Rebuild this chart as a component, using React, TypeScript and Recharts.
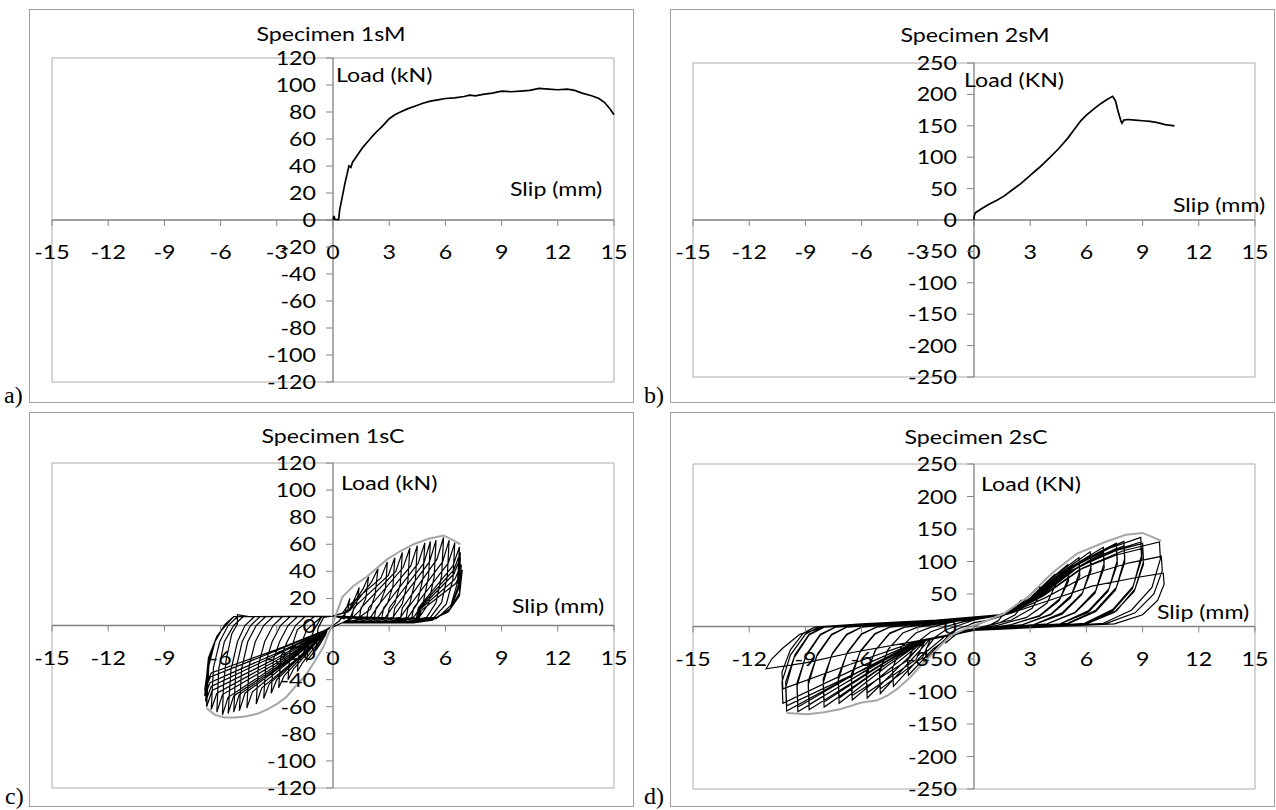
import React from 'react';
import { ComposedChart, Line, Scatter, XAxis, YAxis, CartesianGrid, ReferenceLine } from 'recharts';

// Calibri-like text: Lato stretched horizontally (the source figure is stretched)
const FONT = 'Lato, "Noto Sans", sans-serif';
const STRETCH = 1.22;
const TEXT_SIZE = 19;

const slipTicks = [-15, -12, -9, -6, -3, 0, 3, 6, 9, 12, 15];
const load120Ticks = [-120, -100, -80, -60, -40, -20, 0, 20, 40, 60, 80, 100, 120];
const load250Ticks = [-250, -200, -150, -100, -50, 0, 50, 100, 150, 200, 250];

type Pt = [number, number];

// a) monotonic test 1sM  [slip mm, load kN]
const curve1sM: Pt[] = [
  [0, 0], [0.05, 3], [0.1, 0.5], [0.3, 0.3], [0.35, 7], [0.45, 14], [0.55, 21], [0.65, 28], [0.75, 34],
  [0.85, 40], [0.95, 39], [1.05, 43], [1.2, 46], [1.4, 50], [1.6, 54], [1.85, 58], [2.1, 62], [2.3, 65],
  [2.6, 69], [2.8, 72], [3.0, 75], [3.3, 78], [3.6, 80], [4.0, 82.5], [4.4, 84.5], [4.8, 86.5], [5.2, 88],
  [5.6, 89], [6.0, 90], [6.5, 90.5], [7.0, 91.5], [7.3, 92.5], [7.6, 92], [8.0, 93], [8.5, 94], [9.0, 95.5],
  [9.5, 95], [10.0, 95.5], [10.5, 96], [11.0, 97.5], [11.5, 97], [12.0, 96.5], [12.5, 97], [12.9, 96],
  [13.3, 94], [13.8, 92], [14.2, 90], [14.5, 87], [14.8, 82], [15.0, 78],
];

// b) monotonic test 2sM
const curve2sM: Pt[] = [
  [0, 0], [0, 5], [0.05, 10], [0.1, 12], [0.4, 18], [0.8, 25], [1.2, 31], [1.6, 38], [2.0, 47], [2.5, 58],
  [3.0, 71], [3.5, 84], [4.0, 98], [4.5, 113], [5.0, 130], [5.4, 146], [5.7, 158], [6.0, 167], [6.4, 177],
  [6.8, 186], [7.1, 192], [7.4, 197], [7.55, 190], [7.7, 172], [7.85, 157], [7.9, 154], [8.0, 159],
  [8.2, 160], [8.6, 159], [9.0, 158], [9.4, 157], [9.8, 155], [10.2, 152], [10.7, 150],
];

// c) cyclic test 1sC, hysteresis loops (one row per cycle)
const loops1sC: Pt[] = [
  [0, 0], [0.3, 3], [0.6, 8], [0.8, 12], [0.9, 20], [0.75, 14], [0.5, 9], [0, 7], [-0.5, 6], [-0.8, -2], [-0.85, -9], [-0.9, -18], [-0.7, -14], [-0.4, -7], [-0.3, -3],
  [0.5, 2], [0.9, 5], [1.1, 12], [1.25, 15], [1.4, 28], [1.2, 21], [0.8, 10], [0, 7], [-0.6, 6.5], [-1.0, -3], [-1.3, -13], [-1.4, -26], [-1.1, -21], [-0.6, -10], [-0.3, -3],
  [0.5, 2], [0.9, 4], [1.5, 12], [1.75, 20], [1.9, 36], [1.6, 27], [0.8, 10], [0, 7], [-0.6, 6.5], [-1.4, -3], [-1.8, -17], [-1.9, -34], [-1.6, -27], [-0.85, -14], [-0.3, -3],
  [0.5, 2], [1.2, 4], [2.0, 12], [2.25, 23], [2.4, 42], [2.05, 32], [0.9, 11], [0, 7], [-1.0, 6.5], [-1.9, -3], [-2.3, -20], [-2.4, -40], [-2.1, -32], [-1.1, -16], [-0.3, -3],
  [0.5, 2], [1.0, 3], [2.0, 6], [2.5, 16], [2.8, 27], [2.9, 47], [2.55, 35], [0.7, 13], [0.6, 5], [0, 7], [-1.5, 6.5], [-2.0, 0], [-2.45, -12], [-2.78, -23], [-2.9, -46], [-2.6, -37], [-1.3, -18], [-0.3, -3],
  [0.5, 2], [1.4, 3], [2.4, 6], [2.9, 16], [3.2, 29], [3.3, 50], [2.95, 37], [1.1, 13], [1.0, 5], [0, 7], [-1.9, 6.5], [-2.4, 0], [-2.85, -12], [-3.18, -25], [-3.3, -50], [-3.0, -40], [-1.5, -20], [-0.3, -3],
  [0.5, 2], [1.8, 3], [2.8, 6], [3.3, 16], [3.6, 31], [3.7, 54], [3.35, 40], [1.5, 13], [1.4, 5], [0, 7], [-2.3, 6.5], [-2.8, 0], [-3.25, -12], [-3.58, -27], [-3.7, -54], [-3.4, -43], [-1.7, -22], [-0.3, -3],
  [0.5, 2], [2.2, 3], [3.2, 6], [3.7, 16], [4.0, 33], [4.1, 57], [3.75, 43], [1.9, 13], [1.8, 5], [0, 7], [-2.7, 6.5], [-3.2, 0], [-3.65, -12], [-3.98, -29], [-4.1, -58], [-3.8, -46], [-1.8, -23], [-0.3, -3],
  [0.5, 2], [2.6, 3], [3.6, 6], [4.1, 16], [4.4, 34], [4.5, 59], [4.15, 44], [2.3, 13], [2.2, 5], [0, 7], [-3.2, 6.5], [-3.7, 0], [-4.15, -12], [-4.48, -30], [-4.6, -61], [-4.3, -49], [-2.1, -24], [-0.3, -3],
  [0.5, 2], [3.0, 3], [4.0, 6], [4.5, 16], [4.8, 35], [4.9, 61], [4.55, 46], [2.7, 13], [2.6, 5], [0, 7], [-3.6, 6.5], [-4.1, 0], [-4.55, -12], [-4.88, -32], [-5.0, -63], [-4.7, -50], [-2.25, -25], [-0.3, -3],
  [0.5, 2], [3.3, 3], [4.3, 6], [4.8, 16], [5.1, 36], [5.2, 62], [4.85, 46], [3.0, 13], [2.9, 5], [0, 7], [-3.9, 6.5], [-4.4, 0], [-4.85, -12], [-5.18, -32], [-5.3, -64], [-5.0, -51], [-2.4, -26], [-0.3, -3],
  [0.5, 2], [3.6, 3], [4.6, 6], [5.1, 16], [5.4, 36], [5.5, 63], [5.15, 47], [3.3, 13], [3.2, 5], [0, 7], [-4.2, 6.5], [-4.7, 0], [-5.1, -12], [-5.45, -33], [-5.6, -65], [-5.3, -52], [-2.5, -26], [-0.3, -3],
  [0.5, 2], [4.0, 3], [5.0, 6], [5.5, 17], [5.8, 37], [5.9, 65], [5.55, 49], [3.7, 13], [3.6, 5], [0, 7], [-4.5, 6.5], [-5.1, 8], [-5.1, 1], [-5.4, -6], [-5.7, -25], [-5.85, -45], [-5.9, -66], [-5.6, -53], [-2.65, -26], [-0.3, -3],
  [0.5, 2], [4.2, 3], [5.2, 6], [5.8, 17], [6.1, 36], [6.2, 63], [5.85, 47], [4.0, 13], [3.9, 5], [0, 7], [-4.8, 6.5], [-5.3, 0], [-5.8, -12], [-6.1, -32], [-6.2, -64], [-5.9, -51], [-2.8, -26], [-0.3, -3],
  [0.5, 2], [4.4, 3], [5.4, 6], [6.05, 16], [6.4, 34], [6.5, 61], [6.15, 46], [4.3, 13], [4.2, 5], [0, 7], [-5.1, 6.5], [-5.6, 0], [-6.05, -12], [-6.38, -31], [-6.5, -62], [-6.2, -50], [-2.9, -25], [-0.3, -3],
  [0.5, 2], [4.6, 3], [5.6, 6], [6.3, 15], [6.65, 32], [6.75, 58], [6.4, 44], [4.55, 13], [4.45, 5], [0, 7], [-5.3, 6.5], [-5.8, 0], [-6.3, -12], [-6.63, -30], [-6.75, -60], [-6.45, -48], [-3.0, -24], [-0.3, -3],
  [0.5, 2], [4.5, 2.5], [5.5, 5], [6.3, 13], [6.7, 30], [6.8, 54], [6.45, 41], [4.6, 13], [4.5, 5], [0, 7], [-5.3, 6.5], [-5.75, 1], [-6.25, -10], [-6.65, -27], [-6.8, -56], [-6.5, -45], [-3.05, -22], [-0.3, -3],
  [0.5, 2], [4.4, 2.5], [5.4, 5], [6.25, 12], [6.7, 27], [6.8, 50], [6.45, 38], [4.6, 12], [4.5, 5], [0, 7], [-5.3, 6.5], [-5.7, 1.5], [-6.2, -8], [-6.65, -24], [-6.85, -52], [-6.55, -42], [-3.1, -21], [-0.3, -3],
  [0.5, 2], [4.3, 2], [5.3, 4], [6.2, 11], [6.75, 24], [6.85, 45], [6.5, 34], [4.65, 12], [4.55, 5], [0, 7], [-5.3, 6.5], [-5.65, 2], [-6.15, -7], [-6.6, -22], [-6.85, -48], [-6.55, -38], [-3.1, -19], [-0.3, -3],
  [0.5, 2], [4.2, 2], [5.2, 4], [6.15, 10], [6.75, 22], [6.9, 41], [6.55, 31], [4.7, 11], [4.6, 5], [0, 7], [-5.3, 6.5], [-5.6, 2], [-6.1, -6], [-6.55, -20], [-6.8, -44], [-6.5, -35], [-3.05, -18], [-0.5, -4], [0, 0],
];

const envelope1sC: Pt[] = [
  [-6.75, -61], [-6.3, -66], [-5.8, -68], [-5.2, -68], [-4.6, -67], [-4.0, -65], [-3.5, -62], [-3.0, -58],
  [-2.5, -53], [-2.0, -45], [-1.4, -35.5], [-1.0, -27], [-0.5, -15.5], [-0.3, -8], [0, 2], [0.5, 21],
  [1.07, 29], [1.8, 36], [2.9, 49], [3.6, 55], [4.3, 60], [5.1, 64], [5.9, 66.5], [6.4, 63], [6.8, 60],
];

// d) cyclic test 2sC, hysteresis loops (one row per cycle)
const loops2sC: Pt[] = [
  [0, 0], [0.6, 8], [1.1, 13], [1.5, 20], [1.5, 16], [1.3, 9], [0.9, 3], [0.3, -2], [-0.5, -6], [-1.0, -13], [-1.5, -25], [-1.5, -18], [-1.2, -9], [-0.8, -3], [-0.3, 2],
  [0, 6], [0.8, 10], [1.6, 17], [2.1, 28], [2.5, 40], [2.55, 32], [2.2, 18], [1.4, 6], [0.2, -3], [-0.5, -7], [-1.4, -16], [-2.0, -32], [-2.5, -48], [-2.55, -34], [-2.1, -17], [-1.5, -5], [-0.8, 2],
  [0, 10], [1.6, 18], [2.6, 38], [3.5, 62], [3.55, 50], [3.1, 28], [2.0, 10], [0.5, 0], [0, -5], [-1.2, -14], [-2.2, -35], [-3.5, -75], [-3.55, -52], [-3.1, -26], [-2.3, -8], [-1.5, 0],
  [-0.5, 8], [0.5, 13], [1.7, 19], [3.0, 44], [4.3, 80], [4.35, 64], [3.9, 36], [2.8, 14], [1.3, 2], [0, -5], [-1.5, -14], [-2.8, -45], [-4.3, -92], [-4.35, -64], [-3.9, -32], [-3.1, -10], [-2.3, -1],
  [-1.0, 8], [0.5, 13], [1.7, 19], [3.0, 44], [4.2, 76], [5.0, 95], [5.05, 76], [4.6, 43], [3.5, 17], [2.0, 3], [0, -6], [-2.3, -18], [-3.3, -50], [-5.0, -103], [-5.05, -72], [-4.6, -36], [-3.8, -10], [-3.0, -1],
  [-1.0, 8], [0.5, 13], [1.7, 19], [3.0, 42], [4.2, 70], [5.0, 88], [5.05, 70], [4.55, 40], [3.5, 16], [2.0, 3], [0, -6], [-2.3, -18], [-2.75, -48], [-5.0, -96], [-5.05, -67], [-4.55, -34], [-3.8, -10], [-3.0, -1],
  [-1.5, 7], [0, 12], [1.8, 19], [3.0, 44], [4.4, 80], [5.6, 106], [5.65, 85], [5.2, 48], [4.1, 19], [2.6, 3], [0, -6], [-2.5, -20], [-3.8, -56], [-5.7, -110], [-5.75, -77], [-5.3, -38], [-4.5, -11], [-3.7, -1],
  [-1.5, 7], [0, 12], [1.8, 19], [3.0, 42], [4.4, 75], [5.6, 98], [5.65, 78], [5.15, 44], [4.1, 18], [2.6, 3], [0, -6], [-2.6, -21], [-3.1, -51], [-5.7, -102], [-5.75, -71], [-5.25, -36], [-4.5, -10], [-3.7, -1],
  [-2.0, 7], [0, 12], [1.8, 19], [3.1, 45], [4.6, 82], [6.2, 115], [6.25, 92], [5.8, 52], [4.7, 21], [3.2, 3], [0, -6], [-2.6, -21], [-4.2, -58], [-6.5, -113], [-6.55, -80], [-6.1, -40], [-5.3, -12], [-4.5, -1],
  [-2.0, 7], [0, 12], [1.8, 19], [3.1, 43], [4.6, 77], [6.2, 108], [6.25, 86], [5.75, 49], [4.7, 19], [3.2, 3], [0, -6], [-2.6, -21], [-3.6, -53], [-6.5, -106], [-6.55, -74], [-6.05, -37], [-5.3, -11], [-4.5, -1],
  [-3.0, 6], [-1.0, 10], [0.5, 14], [1.8, 19], [3.2, 46], [4.8, 85], [6.9, 122], [6.95, 98], [6.5, 55], [5.4, 22], [3.9, 4], [1.5, -3], [0, -6], [-2.7, -22], [-4.6, -60], [-7.2, -118], [-7.25, -83], [-6.8, -42], [-6.0, -12], [-5.2, -1],
  [-3.0, 6], [-1.0, 10], [0.5, 14], [1.8, 19], [3.2, 43], [4.8, 79], [6.9, 114], [6.95, 91], [6.45, 51], [5.4, 21], [3.9, 4], [0, -6], [-2.7, -22], [-4.6, -56], [-7.2, -110], [-7.25, -77], [-6.75, -39], [-6.0, -11], [-5.2, -1],
  [-3.5, 6], [-1.0, 10], [1.8, 19], [3.3, 47], [5.0, 88], [6.5, 112], [7.6, 128], [7.65, 102], [7.2, 58], [6.1, 24], [4.6, 4], [2.0, -2], [0, -6], [-2.8, -22], [-5.0, -64], [-8.0, -124], [-8.05, -87], [-7.6, -44], [-6.8, -13], [-6.0, -1],
  [-3.5, 6], [-1.0, 10], [1.8, 19], [3.3, 44], [5.0, 83], [6.5, 105], [7.6, 120], [7.65, 96], [7.15, 54], [6.1, 22], [4.6, 4], [0, -6], [-2.8, -22], [-5.0, -60], [-8.0, -116], [-8.05, -81], [-7.55, -41], [-6.8, -12], [-6.0, -1],
  [-4.0, 5], [-1.5, 10], [1.8, 19], [3.4, 48], [5.2, 90], [6.8, 116], [8.0, 131], [8.05, 105], [7.6, 60], [6.5, 25], [5.0, 5], [2.5, -1], [0, -6], [-2.9, -22], [-5.4, -66], [-8.8, -128], [-8.85, -90], [-8.4, -46], [-7.6, -13], [-6.8, -1],
  [-4.0, 5], [-1.5, 10], [1.8, 19], [3.4, 46], [5.2, 85], [6.8, 110], [8.0, 124], [8.05, 99], [7.55, 56], [6.5, 23], [5.0, 4], [0, -6], [-2.9, -22], [-5.4, -62], [-8.8, -120], [-8.85, -84], [-8.35, -42], [-7.6, -12], [-6.8, -1],
  [-4.5, 5], [-1.5, 10], [1.8, 19], [3.5, 49], [5.4, 93], [7.2, 120], [8.9, 137], [8.95, 110], [8.5, 62], [7.4, 26], [5.9, 5], [3.0, -1], [0, -6], [-3.0, -23], [-5.8, -68], [-9.4, -131], [-9.45, -92], [-9.0, -47], [-8.2, -13], [-7.4, -1],
  [-4.5, 5], [-1.5, 10], [1.8, 19], [3.5, 47], [5.4, 88], [7.2, 114], [8.9, 130], [8.95, 104], [8.45, 58], [7.4, 24], [5.9, 4], [0, -6], [-3.0, -23], [-5.8, -64], [-9.4, -124], [-9.45, -87], [-8.95, -43], [-8.2, -12], [-7.4, -1],
  [-5.0, 4], [-2.0, 10], [1.8, 19], [3.6, 48], [5.6, 92], [7.6, 117], [9.0, 128], [9.05, 100], [8.6, 58], [7.6, 24], [6.1, 5], [3.2, -1], [0, -6], [-3.0, -23], [-6.2, -70], [-10.0, -130], [-10.05, -94], [-9.6, -48], [-8.8, -13], [-8.0, -1],
  [-5.0, 4], [-2.0, 10], [1.8, 19], [3.6, 46], [5.6, 87], [7.6, 110], [9.0, 120], [9.05, 96], [8.55, 54], [7.5, 22], [6.0, 4], [0, -6], [-3.0, -23], [-5.5, -61], [-10.0, -122], [-10.05, -85], [-9.55, -43], [-8.8, -12], [-8.0, -1],
  [-5.5, 4], [-2.0, 10], [1.8, 19], [3.7, 47], [5.8, 90], [8.0, 117], [9.9, 130], [9.95, 104], [9.5, 60], [8.4, 25], [6.9, 5], [4.0, -0.5], [0, -6], [-3.0, -23], [-6.4, -66], [-10.2, -118], [-10.25, -85], [-9.8, -44], [-9.0, -12], [-8.3, -1],
  [-6.0, 4], [-2.0, 10], [1.8, 19], [3.8, 44], [6.0, 78], [8.3, 98], [10.0, 108], [10.05, 86], [9.6, 50], [8.6, 21], [7.0, 4], [4.5, 0], [0, -6], [-3.2, -24], [-6.6, -58], [-10.2, -96], [-10.25, -70], [-9.8, -36], [-9.1, -10], [-8.5, -1],
  [-6.0, 4], [-2.0, 10], [1.8, 19], [4.0, 40], [6.3, 62], [8.6, 75], [10.1, 82], [10.15, 65], [9.8, 40], [9.0, 18], [7.5, 4], [5.0, 1], [0, -5], [-3.0, -22], [-6.5, -40], [-9.0, -56], [-11.1, -65], [-10.8, -50], [-10.2, -33], [-9.3, -12], [-8.0, -1], [-6.0, 3],
];

const envelope2sC: Pt[] = [
  [-10.0, -133], [-8.9, -135], [-8.0, -132], [-7.1, -127], [-6.0, -117], [-5.2, -114], [-4.6, -106], [-4.1, -96],
  [-3.4, -78], [-2.8, -59], [-1.9, -33], [-1.26, -14], [-0.5, -4], [0.6, 8], [1.6, 20], [2.9, 46], [4.2, 83],
  [5.5, 112], [7.0, 130], [8.1, 141], [9.0, 144], [9.5, 138], [10.0, 131.6],
];

const toRows = (pts: Pt[]) => pts.map(([x, y]) => ({ x, y }));

const stretchedText = (x: number, y: number, anchor: string, text: string) => (
  <text
    transform={`translate(${x},${y}) scale(${STRETCH},1)`}
    textAnchor={anchor}
    fontFamily={FONT}
    fontSize={TEXT_SIZE}
    fill="#000"
  >
    {text}
  </text>
);

const XTick = (p: any) => (
  <g>
    <line x1={p.cx} x2={p.cx} y1={p.cy} y2={p.cy + 6} stroke="#868686" />
    {stretchedText(p.cx, p.cy + 39, 'middle', p.payload.label)}
  </g>
);

const YTick = (p: any) => (
  <g>
    <line x1={p.cx - 7} x2={p.cx} y1={p.cy} y2={p.cy} stroke="#868686" />
    {stretchedText(p.cx - 17, p.cy + 7, 'end', p.payload.label)}
  </g>
);

interface Series {
  data: Pt[];
  color: string;
  width: number;
}

interface PanelProps {
  left: number;
  top: number;
  width: number;
  height: number;
  margin: { top: number; right: number; bottom: number; left: number };
  yTicks: number[];
  series: Series[];
}

function Panel({ left, top, width, height, margin, yTicks, series }: PanelProps) {
  const xTickRows = slipTicks.map((v) => ({ x: v, y: 0, label: String(v) }));
  const yTickRows = yTicks.map((v) => ({ x: 0, y: v, label: String(v) }));
  const yMax = yTicks[yTicks.length - 1];
  return (
    <>
      <div
        style={{
          position: 'absolute', left, top, width, height,
          border: '1px solid #a0a0a0', boxSizing: 'border-box', background: '#fff',
        }}
      />
      <div style={{ position: 'absolute', left, top }}>
        <ComposedChart width={width} height={height} margin={margin}>
          <CartesianGrid stroke="#ababab" strokeWidth={1} />
          <XAxis
            type="number" dataKey="x" domain={[-15, 15]} ticks={slipTicks}
            axisLine={false} tickLine={false} tick={false} height={0}
          />
          <YAxis
            type="number" dataKey="y" domain={[-yMax, yMax]} ticks={yTicks}
            axisLine={false} tickLine={false} tick={false} width={0}
          />
          <ReferenceLine y={0} stroke="#808080" strokeWidth={1.3} />
          <ReferenceLine x={0} stroke="#808080" strokeWidth={1.3} />
          {series.map((s, i) => (
            <Line
              key={i}
              data={toRows(s.data)}
              dataKey="y"
              type="linear"
              stroke={s.color}
              strokeWidth={s.width}
              dot={false}
              activeDot={false}
              isAnimationActive={false}
            />
          ))}
          <Scatter data={xTickRows} shape={XTick} isAnimationActive={false} />
          <Scatter data={yTickRows} shape={YTick} isAnimationActive={false} />
        </ComposedChart>
      </div>
    </>
  );
}

export default function App() {
  return (
    <div style={{ position: 'absolute', left: 0, top: 0, width: 1276, height: 810, background: '#fff', overflow: 'hidden' }}>
      <Panel
        left={29} top={9} width={605} height={394}
        margin={{ top: 49, right: 20, bottom: 21, left: 23 }}
        yTicks={load120Ticks}
        series={[{ data: curve1sM, color: '#000', width: 1.7 }]}
      />
      <Panel
        left={670} top={9} width={605} height={394}
        margin={{ top: 54, right: 20, bottom: 26, left: 23 }}
        yTicks={load250Ticks}
        series={[{ data: curve2sM, color: '#000', width: 1.7 }]}
      />
      <Panel
        left={29} top={412} width={605} height={395}
        margin={{ top: 51, right: 20, bottom: 19, left: 23 }}
        yTicks={load120Ticks}
        series={[
          { data: loops1sC, color: '#000', width: 1.2 },
          { data: envelope1sC, color: '#a6a6a6', width: 2 },
        ]}
      />
      <Panel
        left={670} top={412} width={605} height={395}
        margin={{ top: 52, right: 20, bottom: 18, left: 23 }}
        yTicks={load250Ticks}
        series={[
          { data: loops2sC, color: '#000', width: 1.2 },
          { data: envelope2sC, color: '#a6a6a6', width: 2 },
        ]}
      />
      <svg width={1276} height={810} style={{ position: 'absolute', left: 0, top: 0, pointerEvents: 'none' }}>
        {stretchedText(331, 41, 'middle', 'Specimen 1sM')}
        {stretchedText(975, 42, 'middle', 'Specimen 2sM')}
        {stretchedText(333, 443, 'middle', 'Specimen 1sC')}
        {stretchedText(976, 444, 'middle', 'Specimen 2sC')}
        {stretchedText(336, 82, 'start', 'Load (kN)')}
        {stretchedText(964, 87, 'start', 'Load (KN)')}
        {stretchedText(341, 490, 'start', 'Load (kN)')}
        {stretchedText(981, 491, 'start', 'Load (KN)')}
        {stretchedText(510, 196, 'start', 'Slip (mm)')}
        {stretchedText(1173, 212, 'start', 'Slip (mm)')}
        {stretchedText(512, 613, 'start', 'Slip (mm)')}
        {stretchedText(1157, 619, 'start', 'Slip (mm)')}
        <text x={4} y={403} fontFamily="'Liberation Serif', serif" fontSize={24}>a)</text>
        <text x={644} y={403} fontFamily="'Liberation Serif', serif" fontSize={24}>b)</text>
        <text x={5} y={804} fontFamily="'Liberation Serif', serif" fontSize={24}>c)</text>
        <text x={644} y={804} fontFamily="'Liberation Serif', serif" fontSize={24}>d)</text>
      </svg>
    </div>
  );
}
